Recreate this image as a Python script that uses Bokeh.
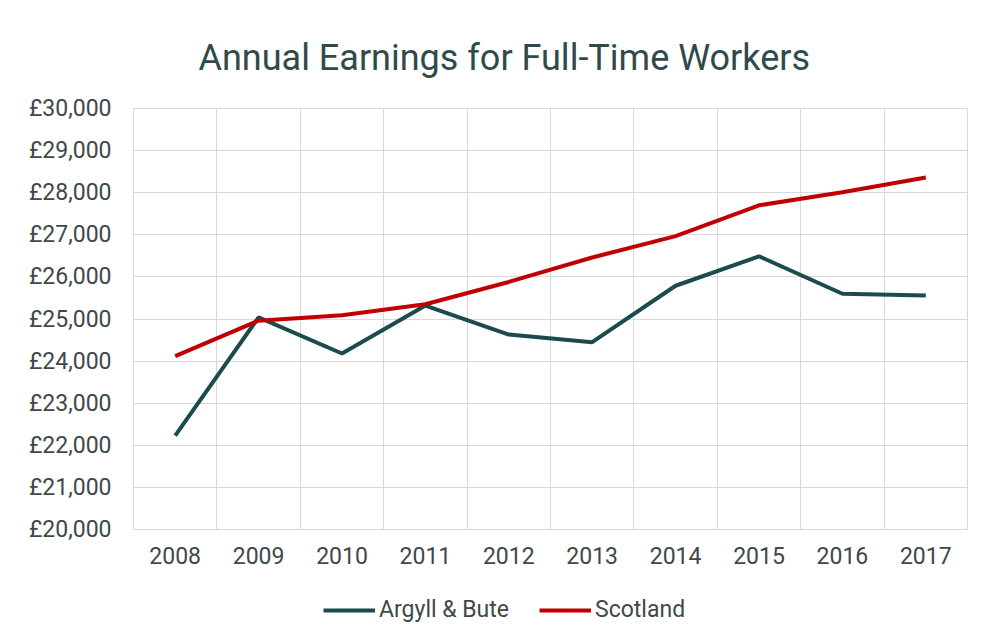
from bokeh.plotting import figure
from bokeh.layouts import column
from bokeh.models import FixedTicker, Legend, LegendItem, Range1d, Title
from bokeh.embed import file_html
from bokeh.resources import INLINE

years = ["2008", "2009", "2010", "2011", "2012", "2013", "2014", "2015", "2016", "2017"]
argyll = [22230, 25040, 24180, 25320, 24630, 24450, 25790, 26490, 25600, 25560]
scotland = [24120, 24960, 25090, 25350, 25880, 26460, 26970, 27700, 28010, 28360]
y_ticks = [20000, 21000, 22000, 23000, 24000, 25000, 26000, 27000, 28000, 29000, 30000]
series_names = ["Argyll & Bute", "Scotland"]
series_colors = ["#1b4b4d", "#c00000"]

FONT = "Roboto"
TXT = "#404848"

xs = [i + 0.5 for i in range(len(years))]

p = figure(width=982, height=580, output_backend="svg", toolbar_location=None,
           x_range=Range1d(0, len(years)), y_range=Range1d(20000, 30000),
           min_border_left=133, min_border_right=15, min_border_top=108, min_border_bottom=51)
p.title = None
t = Title(text="Annual Earnings for Full-Time Workers", align="left",
          text_font=FONT, text_font_size="36px", text_font_style="normal",
          text_color="#2f4a4a", offset=65, standoff=60)
p.add_layout(t, "above")

p.outline_line_color = "#d9d9d9"
p.background_fill_color = "white"
p.border_fill_color = "white"

p.line(xs, argyll, line_color=series_colors[0], line_width=4)
p.line(xs, scotland, line_color=series_colors[1], line_width=4)

p.xaxis.ticker = FixedTicker(ticks=xs)
p.xaxis.major_label_overrides = {x: y for x, y in zip(xs, years)}
p.xgrid.ticker = FixedTicker(ticks=list(range(len(years) + 1)))
p.yaxis.ticker = FixedTicker(ticks=y_ticks)
p.ygrid.ticker = FixedTicker(ticks=y_ticks)
p.yaxis.major_label_overrides = {v: "£{:,}".format(v) for v in y_ticks}

for ax in (p.xaxis, p.yaxis):
    ax.axis_line_color = None
    ax.major_tick_line_color = None
    ax.minor_tick_line_color = None
    ax.major_label_text_font = FONT
    ax.major_label_text_font_size = "23px"
    ax.major_label_text_color = TXT
p.xaxis.major_label_standoff = 11
p.yaxis.major_label_standoff = 16

p.grid.grid_line_color = "#d9d9d9"
p.grid.grid_line_width = 1

# legend strip below the chart (series drawn out of its visible range, only the legend shows)
lf = figure(width=982, height=58, output_backend="svg", toolbar_location=None,
            x_range=Range1d(0, 1), y_range=Range1d(0, 1),
            min_border_left=0, min_border_right=0, min_border_top=0, min_border_bottom=0)
lf.axis.visible = False
lf.grid.visible = False
lf.outline_line_color = None
lf.border_fill_color = "white"
items = []
for name, col, vals in zip(series_names, series_colors, [argyll, scotland]):
    r = lf.line(xs, vals, line_color=col, line_width=4)
    items.append(LegendItem(label=name, renderers=[r]))
legend = Legend(items=items, orientation="horizontal", location=(190, 15),
                label_text_font=FONT, label_text_font_size="23px", label_text_color=TXT,
                glyph_width=52, glyph_height=24, spacing=30, label_standoff=4,
                border_line_color=None, background_fill_alpha=0, padding=0, margin=0)
lf.add_layout(legend)

layout = column(p, lf, spacing=0)
open("out.html", "w").write(file_html(layout, INLINE))
